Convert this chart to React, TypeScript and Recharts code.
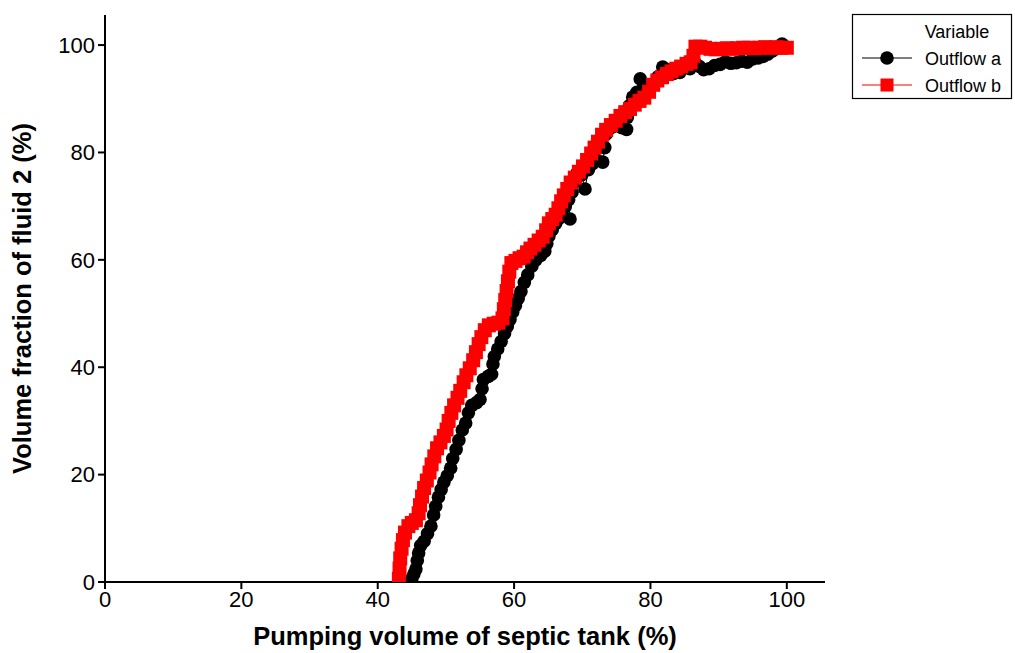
import { ScatterChart, Scatter, XAxis, YAxis } from "recharts";

// x = pumping volume (%), y = volume fraction of fluid 2 (%)
const outflowA: Array<[number, number]> = [
  [45.0, 0.6], [45.3, 1.5], [45.6, 2.4], [45.8, 4.0], [46.0, 5.4], [46.3, 6.8], [46.8, 7.6],
  [47.3, 9.0], [47.8, 10.4], [48.2, 12.5], [48.5, 14.1], [48.9, 15.8], [49.3, 17.2], [49.7, 18.6],
  [50.2, 19.8], [50.7, 21.2], [51.0, 23.0], [51.5, 24.7], [51.9, 26.4], [52.4, 28.3], [52.9, 29.6],
  [53.3, 31.5], [53.8, 32.9], [54.5, 33.4], [55.0, 34.0], [55.3, 36.0], [55.5, 37.7], [56.2, 38.3],
  [56.7, 38.7], [56.9, 40.6], [57.1, 42.0], [57.6, 43.4], [58.1, 44.8], [58.6, 46.3], [59.0, 47.6],
  [59.4, 48.9], [59.8, 50.3], [60.2, 51.5], [60.6, 52.8], [61.0, 54.1], [61.5, 55.8], [62.0, 57.2],
  [62.6, 58.8], [63.2, 60.0], [63.9, 60.8], [64.5, 61.6], [64.8, 63.0], [65.1, 64.4], [65.6, 65.6],
  [66.1, 66.8], [66.5, 67.6], [67.0, 68.5], [67.5, 69.9], [68.2, 67.6], [68.0, 71.2], [68.5, 72.6],
  [68.9, 74.5], [69.3, 76.3], [69.9, 75.8], [70.4, 73.2], [70.9, 76.8], [71.5, 77.9], [72.2, 78.5],
  [73.0, 78.2], [73.3, 80.9], [73.5, 83.4], [74.2, 84.6], [75.0, 85.0], [75.8, 84.6], [76.5, 84.3],
  [76.6, 86.5], [76.9, 88.7], [77.4, 90.3], [78.0, 91.2], [78.5, 93.7], [79.0, 92.1], [79.7, 91.8],
  [80.4, 92.6], [81.1, 94.1], [81.8, 95.9], [82.6, 95.4], [83.4, 94.7], [84.3, 94.9], [85.0, 95.8],
  [85.8, 95.6], [86.5, 96.8], [87.2, 96.0], [87.8, 95.4], [88.6, 95.6], [89.4, 96.2], [90.2, 96.4],
  [91.0, 96.9], [91.8, 96.6], [92.6, 96.7], [93.4, 97.0], [94.2, 96.8], [95.0, 97.4], [95.8, 97.6],
  [96.5, 97.9], [97.2, 98.3], [97.9, 98.9], [98.6, 99.4], [99.3, 100.2], [99.8, 99.7],
];

const outflowB: Array<[number, number]> = [
  [43.1, 0.6], [43.2, 2.5], [43.3, 4.4], [43.5, 6.2], [43.7, 7.8], [44.0, 9.2], [44.5, 10.4],
  [45.0, 11.0], [45.6, 11.5], [46.0, 12.8], [46.2, 14.3], [46.5, 15.9], [46.8, 17.5], [47.2, 18.9],
  [47.6, 20.4], [47.9, 21.9], [48.3, 23.4], [48.7, 24.9], [49.2, 26.0], [49.7, 27.2], [50.1, 28.4],
  [50.4, 30.0], [50.8, 31.5], [51.2, 32.9], [51.7, 34.3], [52.1, 35.6], [52.6, 37.2], [53.0, 38.5],
  [53.5, 39.8], [54.0, 41.3], [54.4, 42.8], [54.8, 44.3], [55.2, 45.6], [55.7, 46.9], [56.3, 47.8],
  [57.0, 48.1], [57.7, 48.3], [58.3, 49.1], [58.5, 50.8], [58.7, 52.5], [58.9, 54.2], [59.1, 56.0],
  [59.3, 57.8], [59.6, 59.4], [60.2, 59.8], [60.8, 60.3], [61.4, 60.6], [61.9, 61.4], [62.4, 62.1],
  [63.0, 62.8], [63.6, 63.6], [64.2, 64.3], [64.7, 65.5], [65.1, 66.8], [65.6, 67.6], [66.1, 68.4],
  [66.5, 69.6], [66.9, 70.9], [67.3, 72.0], [67.8, 73.2], [68.3, 74.4], [68.9, 75.3], [69.5, 76.4],
  [70.1, 77.4], [70.7, 78.6], [71.3, 79.8], [71.8, 80.9], [72.3, 82.0], [72.9, 83.3], [73.5, 84.2],
  [74.2, 85.1], [74.9, 85.9], [75.6, 86.8], [76.3, 87.5], [77.0, 88.1], [77.7, 88.9], [78.4, 89.6],
  [79.1, 90.2], [79.8, 91.3], [80.4, 92.6], [81.0, 93.4], [81.7, 94.0], [82.4, 94.6], [83.1, 95.1],
  [83.8, 95.6], [84.5, 96.0], [85.3, 96.5], [85.9, 96.8], [86.3, 98.0], [86.6, 99.7], [87.3, 99.7],
  [88.0, 99.5], [88.8, 99.3], [89.6, 99.2], [90.4, 99.3], [91.2, 99.4], [92.0, 99.3], [92.8, 99.4],
  [93.6, 99.5], [94.4, 99.5], [95.2, 99.4], [96.0, 99.5], [96.8, 99.6], [97.6, 99.5], [98.4, 99.6],
  [99.2, 99.5], [100.0, 99.5],
];

const xTicks = [0, 20, 40, 60, 80, 100];
const yTicks = [0, 20, 40, 60, 80, 100];
const seriesNames = ["Outflow a", "Outflow b"];

const dataA = outflowA.map(([x, y]) => ({ x, y }));
const dataB = outflowB.map(([x, y]) => ({ x, y }));

const font = "Liberation Sans, Arial, sans-serif";
const tickFont = { fill: "#000", fontSize: 22, fontFamily: font };
const titleFont = { fill: "#000", fontSize: 25.5, fontWeight: 700, fontFamily: font };

function Dot(props: any) {
  return <circle cx={props.cx} cy={props.cy} r={6.8} fill="#000" />;
}

function Square(props: any) {
  return <rect x={props.cx - 7} y={props.cy - 7} width={14} height={14} fill="#FF0000" />;
}

function LegendBox() {
  const rows = [
    { name: seriesNames[0], color: "#000", square: false },
    { name: seriesNames[1], color: "#FF0000", square: true },
  ];
  return (
    <svg width={1015} height={653} style={{ position: "absolute", left: 0, top: 0, pointerEvents: "none" }}>
      <rect x={852.5} y={14.5} width={159} height={84} fill="#fff" stroke="#000" strokeWidth={1.2} />
      <text x={957} y={38} textAnchor="middle" fontSize={18} fontFamily={font}>
        Variable
      </text>
      {rows.map((r, i) => {
        const cy = 58 + i * 27;
        return (
          <g key={r.name}>
            <line x1={862} x2={912} y1={cy} y2={cy} stroke={r.color} strokeWidth={1.2} />
            {r.square ? (
              <rect x={880.5} y={cy - 6.5} width={13} height={13} fill={r.color} />
            ) : (
              <circle cx={887} cy={cy} r={6.8} fill={r.color} />
            )}
            <text x={925} y={cy + 6.5} fontSize={18} fontFamily={font}>
              {r.name}
            </text>
          </g>
        );
      })}
    </svg>
  );
}

export default function App() {
  return (
    <div style={{ position: "absolute", left: 0, top: 0, width: 1015, height: 653, background: "#fff" }}>
      <ScatterChart width={1015} height={653} margin={{ top: 15, right: 190, bottom: 8, left: 0 }}>
        <XAxis
          xAxisId="main"
          type="number"
          dataKey="x"
          domain={[0, 105.6]}
          allowDataOverflow
          ticks={xTicks}
          tickSize={7}
          tickMargin={2}
          height={63}
          stroke="#000"
          strokeWidth={2}
          tick={tickFont}
          label={{ value: "Pumping volume of septic tank (%)", position: "insideBottom", offset: 0, style: titleFont }}
        />
        <XAxis
          xAxisId="top"
          orientation="top"
          type="number"
          domain={[0, 105.6]}
          allowDataOverflow
          tick={false}
          tickLine={false}
          height={0}
          stroke="#000"
          strokeWidth={2}
        />
        <YAxis
          yAxisId="main"
          type="number"
          dataKey="y"
          domain={[0, 105.6]}
          allowDataOverflow
          ticks={yTicks}
          tickSize={7}
          tickMargin={3}
          width={105}
          stroke="#000"
          strokeWidth={2}
          tick={tickFont}
          label={{
            value: "Volume fraction of fluid 2 (%)",
            angle: -90,
            position: "insideLeft",
            offset: 22,
            style: { ...titleFont, textAnchor: "middle" },
          }}
        />
        <YAxis
          yAxisId="right"
          orientation="right"
          type="number"
          domain={[0, 105.6]}
          allowDataOverflow
          tick={false}
          tickLine={false}
          width={0}
          stroke="#000"
          strokeWidth={2}
        />
        <Scatter
          name={seriesNames[0]}
          data={dataA}
          xAxisId="main"
          yAxisId="main"
          line={{ stroke: "#000", strokeWidth: 1 }}
          shape={Dot}
          isAnimationActive={false}
        />
        <Scatter
          name={seriesNames[1]}
          data={dataB}
          xAxisId="main"
          yAxisId="main"
          line={{ stroke: "#FF0000", strokeWidth: 1 }}
          shape={Square}
          isAnimationActive={false}
        />
      </ScatterChart>
      <LegendBox />
    </div>
  );
}
